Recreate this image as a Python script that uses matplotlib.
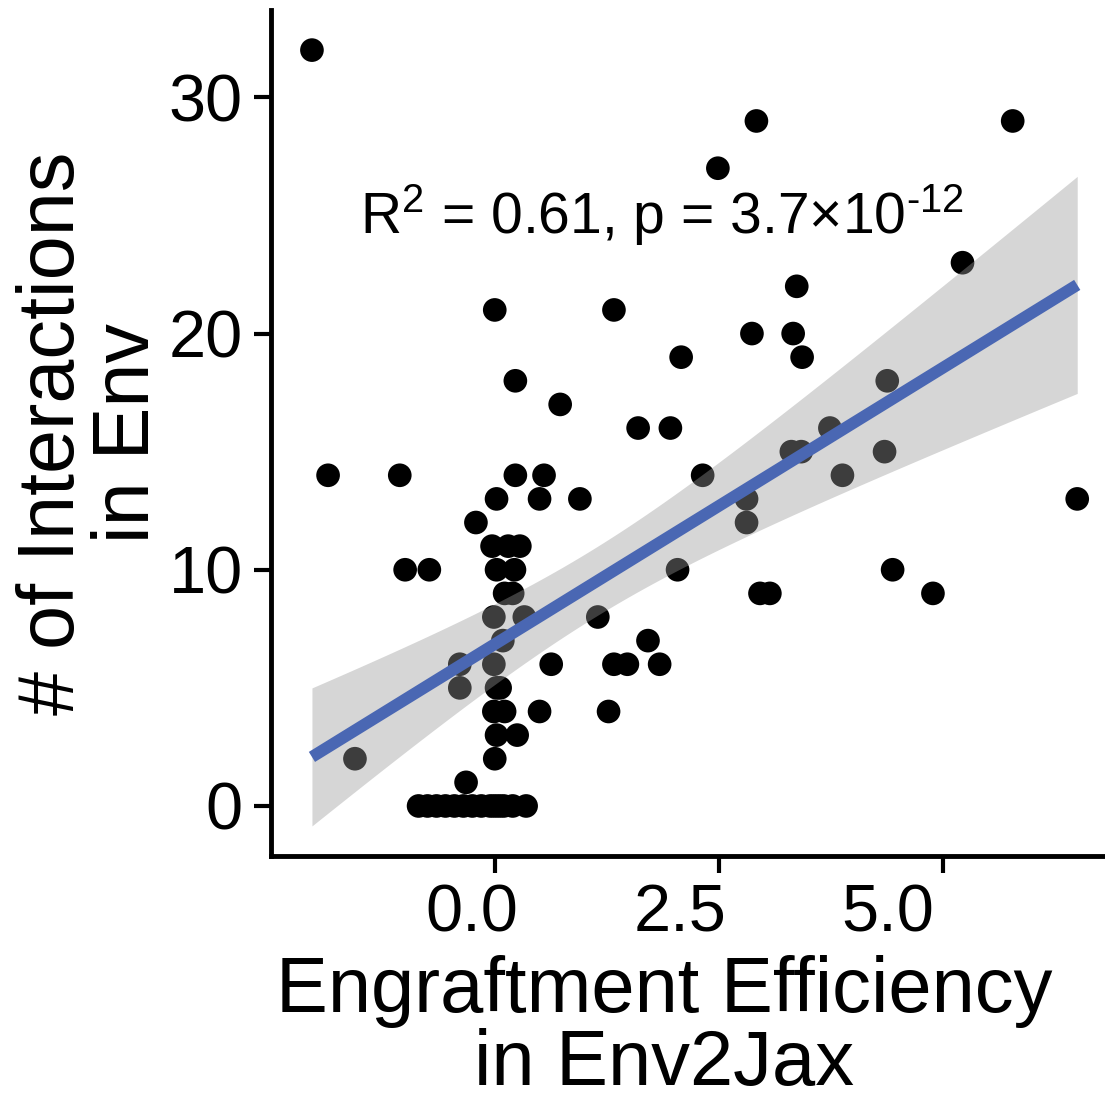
import numpy as np
import matplotlib
matplotlib.use("Agg")
import matplotlib.pyplot as plt
from matplotlib.transforms import ScaledTranslation

plt.rcParams['font.family'] = ['Liberation Sans', 'DejaVu Sans']
plt.rcParams['mathtext.fontset'] = 'custom'
plt.rcParams['mathtext.rm'] = 'Liberation Sans'
plt.rcParams['mathtext.it'] = 'Liberation Sans'

# engraftment efficiency (x) vs number of interactions (y)
eng = [-2.04, -1.86, -1.06, -1.00, -0.73, -1.56, -0.39, -0.39, -0.32,
       -0.85, -0.75, -0.65, -0.55, -0.45, -0.35, -0.25, -0.15, -0.05, 0.00, 0.05, 0.10, 0.20, 0.35,
       0.00, -0.21, 0.02, -0.03, 0.15, 0.28, 0.02, 0.22, 0.11, 0.20, -0.01, 0.33,
       0.09, -0.01, 0.02, 0.06, -0.01, 0.11, 0.02, 0.25, 0.00,
       0.23, 0.23, 0.55, 0.50, 0.95, 0.73, 0.63, 0.50, 1.15, 1.27, 1.33,
       1.33, 1.48, 1.71, 1.84, 1.60, 1.96, 2.08, 2.04, 2.32, 2.49, 2.81, 2.81,
       2.87, 2.92, 2.96, 3.07, 3.31, 3.42, 3.37, 3.33, 3.43, 3.74, 3.88, 4.38,
       4.35, 4.44, 4.89, 5.22, 5.78, 6.50]
inter = [32, 14, 14, 10, 10, 2, 6, 5, 1,
         0, 0, 0, 0, 0, 0, 0, 0, 0, 0, 0, 0, 0, 0,
         21, 12, 13, 11, 11, 11, 10, 10, 9, 9, 8, 8,
         7, 6, 5, 5, 4, 4, 3, 3, 2,
         18, 14, 14, 13, 13, 17, 6, 4, 8, 4, 21,
         6, 6, 7, 6, 16, 16, 19, 10, 14, 27, 12, 13,
         20, 29, 9, 9, 15, 15, 22, 20, 19, 16, 14, 18,
         15, 10, 9, 23, 29, 13]

xticks = [0.0, 2.5, 5.0]
xticklabels = ['0.0', '2.5', '5.0']
yticks = [0, 10, 20, 30]

# reported regression
fit_intercept = 6.85
fit_slope = 2.34

x = np.array(eng)
y = np.array(inter)

# 95% confidence band around the regression line
n = len(x)
xs = np.linspace(x.min(), x.max(), 200)
ys = fit_intercept + fit_slope * xs
resid = y - (fit_intercept + fit_slope * x)
s = np.sqrt(np.sum(resid ** 2) / (n - 2))
sxx = np.sum((x - x.mean()) ** 2)
se = s * np.sqrt(1 / n + (xs - x.mean()) ** 2 / sxx)
tval = 1.99
lo = ys - tval * se
hi = ys + tval * se

fig = plt.figure(figsize=(11.05, 11.06), dpi=100)
ax = fig.add_axes([0.245, 0.226, 0.755, 0.765])

ax.scatter(x, y, s=290, color='black', edgecolors='none', zorder=2)
ax.fill_between(xs, lo, hi, color='#999999', alpha=0.4, linewidth=0, zorder=3)
ax.plot(xs, ys, color='#4A67B3', linewidth=8.5, solid_capstyle='butt', zorder=4)

ax.text(1.86, 25.0, r'R$^{2}$ = 0.61, p = 3.7$\times$10$^{\text{-}12}$',
        ha='center', va='center', fontsize=41)

ax.set_xlim(-2.5, 6.81)
ax.set_ylim(-2.12, 33.7)
ax.set_xticks(xticks)
ax.set_xticklabels(xticklabels)
ax.set_yticks(yticks)

for side in ['top', 'right']:
    ax.spines[side].set_visible(False)
for side in ['left', 'bottom']:
    ax.spines[side].set_linewidth(3.5)
ax.tick_params(axis='both', width=3, length=12, labelsize=48, colors='black', pad=8)

# x tick labels sit a little left of their ticks
shifts = [-0.23, -0.39, -0.55]
for lab, dx in zip(ax.get_xticklabels(), shifts):
    lab.set_transform(lab.get_transform() + ScaledTranslation(dx, 0, fig.dpi_scale_trans))

ax.set_xlabel('Engraftment Efficiency\nin Env2Jax', fontsize=56, linespacing=1.0)
ax.xaxis.set_label_coords(0.472, -0.117, transform=ax.transAxes)
ax.xaxis.label.set_va('top')
ax.set_ylabel('# of Interactions\nin Env', fontsize=57, linespacing=1.0, labelpad=2)

fig.savefig('out.png', dpi=100, facecolor='white')
